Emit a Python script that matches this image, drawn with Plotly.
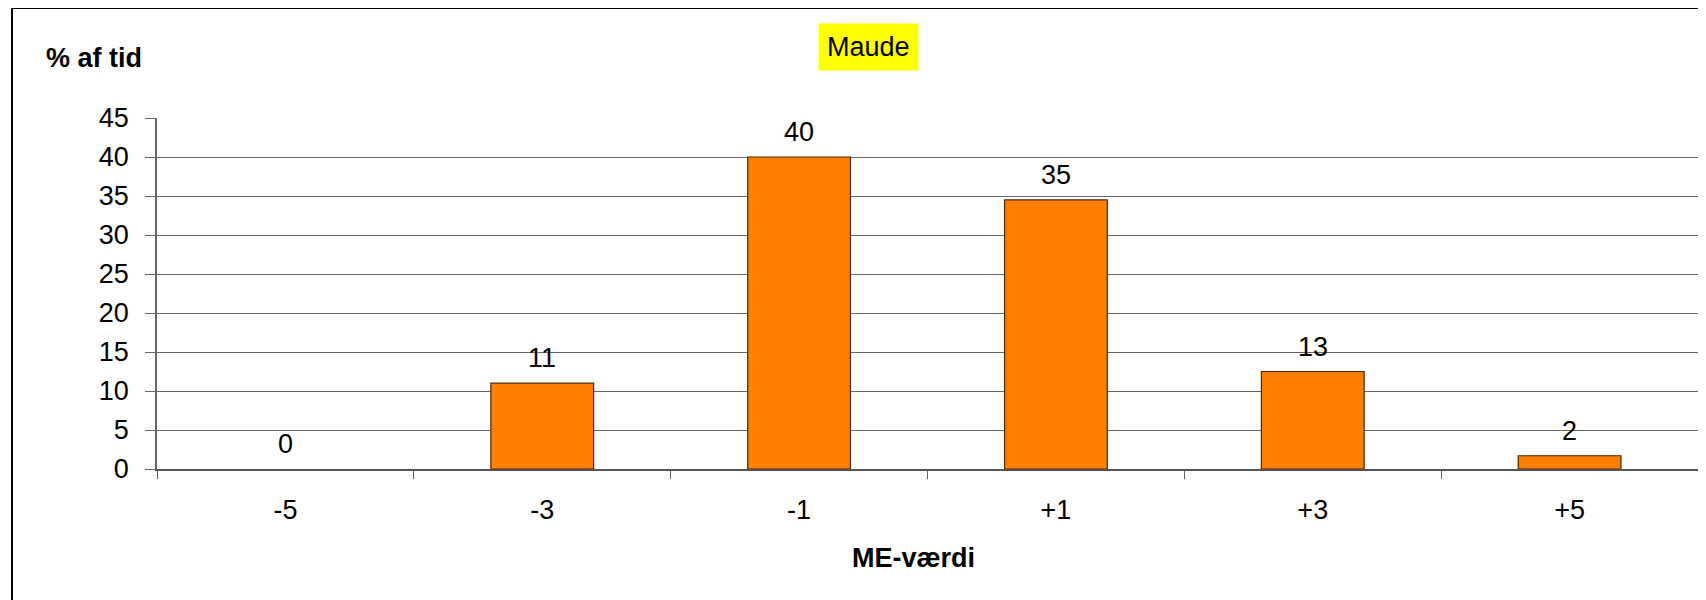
import plotly.graph_objects as go

categories = ["-5", "-3", "-1", "+1", "+3", "+5"]
values = [0, 11, 40, 34.5, 12.5, 1.7]
labels = ["0", "11", "40", "35", "13", "2"]
y_ticks = [0, 5, 10, 15, 20, 25, 30, 35, 40, 45]

# page body has an 8px margin; figure coords = screen coords - 8
OFF = 8
W, H = 1698, 592
L, R, T, B = 157 - OFF, 8, 118 - OFF, 600 - 469
pw = W - L - R
ph = H - T - B

def px_x(x):
    return (x - OFF - L) / pw

def px_y(y):
    return (H - B - (y - OFF)) / ph

FONT = "Liberation Sans, Arial, sans-serif"

fig = go.Figure()
fig.add_trace(go.Bar(
    x=categories, y=values,
    marker=dict(color="#FF8000",
                line=dict(color="#4A2600", width=[0 if v == 0 else 1.2 for v in values])),
    width=0.4,
    hoverinfo="skip",
))

for i, (v, lab) in enumerate(zip(values, labels)):
    fig.add_annotation(x=i, y=v, xref="x", yref="y", text=lab, showarrow=False,
                       yanchor="bottom", yshift=8,
                       font=dict(family=FONT, size=27, color="black"))

fig.add_annotation(x=px_x(868), y=px_y(47), xref="paper", yref="paper",
                   text="Maude", showarrow=False, bgcolor="#FFFF00", borderpad=8,
                   xanchor="center", yanchor="middle",
                   font=dict(family=FONT, size=27, color="black"))
fig.add_annotation(x=px_x(44), y=px_y(58), xref="paper", yref="paper",
                   text="<b>% af tid</b>", showarrow=False,
                   xanchor="left", yanchor="middle",
                   font=dict(family=FONT, size=27, color="black"))
fig.add_annotation(x=px_x(913), y=px_y(558), xref="paper", yref="paper",
                   text="<b>ME-værdi</b>", showarrow=False,
                   xanchor="center", yanchor="middle",
                   font=dict(family=FONT, size=27, color="black"))

fig.add_shape(type="rect", xref="paper", yref="paper",
              x0=px_x(12), y0=px_y(640), x1=px_x(1740), y1=px_y(8),
              line=dict(color="black", width=2), fillcolor="rgba(0,0,0,0)")

fig.update_layout(
    width=W, height=H,
    margin=dict(l=L, r=R, t=T, b=B, pad=0),
    paper_bgcolor="white", plot_bgcolor="white",
    showlegend=False,
    font=dict(family=FONT, size=27, color="black"),
    xaxis=dict(type="category", tickson="boundaries", ticks="outside", ticklen=8,
               tickcolor="#666", showgrid=False, showline=True, linecolor="#555",
               linewidth=1.5, tickfont=dict(size=27), ticklabelstandoff=16,
               range=[-0.5, 5.5]),
    yaxis=dict(range=[0, 45], tickvals=y_ticks, ticks="outside", ticklen=10,
               tickcolor="#666", showgrid=True, gridcolor="#666", gridwidth=1,
               showline=True, linecolor="#666", linewidth=1.5, zeroline=False,
               tickfont=dict(size=27), ticklabelstandoff=11),
    bargap=0.6,
)

fig.write_html("out.html")
